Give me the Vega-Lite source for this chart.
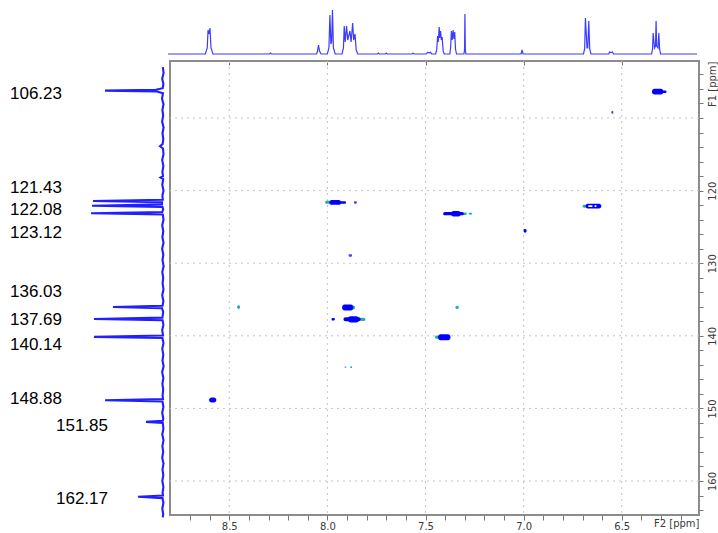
{
  "$schema": "https://vega.github.io/schema/vega-lite/v6.json",
  "padding": 0,
  "background": "white",
  "spacing": 2,
  "config": {
    "view": {"stroke": null},
    "axis": {"labelFont": "DejaVu Sans", "labelFontSize": 10, "labelColor": "#3a3a3a", "titleFont": "DejaVu Sans", "titleFontSize": 10, "titleFontWeight": "normal", "titleColor": "#3a3a3a", "tickColor": "#777777", "domain": false, "labelOverlap": false}
  },
  "datasets": {
    "h1": [
      {"ppm": 8.802, "i": 0}, {"ppm": 8.612, "i": 0}, {"ppm": 8.602, "i": 6}, {"ppm": 8.598, "i": 24}, {"ppm": 8.593, "i": 20}, {"ppm": 8.588, "i": 26}, {"ppm": 8.583, "i": 6}, {"ppm": 8.573, "i": 0},
      {"ppm": 8.285, "i": 0}, {"ppm": 8.28, "i": 1}, {"ppm": 8.275, "i": 0},
      {"ppm": 8.045, "i": 0}, {"ppm": 8.04, "i": 3}, {"ppm": 8.035, "i": 9}, {"ppm": 8.03, "i": 3}, {"ppm": 8.022, "i": 0},
      {"ppm": 7.99, "i": 0}, {"ppm": 7.982, "i": 6}, {"ppm": 7.977, "i": 39}, {"ppm": 7.972, "i": 10}, {"ppm": 7.968, "i": 12}, {"ppm": 7.964, "i": 44}, {"ppm": 7.959, "i": 6}, {"ppm": 7.95, "i": 0},
      {"ppm": 7.915, "i": 0}, {"ppm": 7.908, "i": 6}, {"ppm": 7.904, "i": 28}, {"ppm": 7.899, "i": 12}, {"ppm": 7.892, "i": 28}, {"ppm": 7.886, "i": 14}, {"ppm": 7.875, "i": 23}, {"ppm": 7.869, "i": 12}, {"ppm": 7.861, "i": 31}, {"ppm": 7.856, "i": 14}, {"ppm": 7.849, "i": 20}, {"ppm": 7.843, "i": 4}, {"ppm": 7.835, "i": 0},
      {"ppm": 7.735, "i": 0}, {"ppm": 7.73, "i": 1}, {"ppm": 7.725, "i": 0}, {"ppm": 7.695, "i": 0}, {"ppm": 7.69, "i": 1}, {"ppm": 7.685, "i": 0},
      {"ppm": 7.558, "i": 0}, {"ppm": 7.553, "i": 0.8}, {"ppm": 7.548, "i": 0},
      {"ppm": 7.486, "i": 0}, {"ppm": 7.48, "i": 1.5}, {"ppm": 7.472, "i": 1.2}, {"ppm": 7.465, "i": 1.7}, {"ppm": 7.458, "i": 0},
      {"ppm": 7.438, "i": 0}, {"ppm": 7.433, "i": 4}, {"ppm": 7.428, "i": 18}, {"ppm": 7.425, "i": 12}, {"ppm": 7.42, "i": 27}, {"ppm": 7.417, "i": 16}, {"ppm": 7.413, "i": 23}, {"ppm": 7.409, "i": 14}, {"ppm": 7.405, "i": 17}, {"ppm": 7.4, "i": 3}, {"ppm": 7.395, "i": 0},
      {"ppm": 7.366, "i": 0}, {"ppm": 7.362, "i": 6}, {"ppm": 7.358, "i": 23}, {"ppm": 7.354, "i": 14}, {"ppm": 7.349, "i": 24}, {"ppm": 7.345, "i": 15}, {"ppm": 7.341, "i": 22}, {"ppm": 7.337, "i": 5}, {"ppm": 7.332, "i": 0},
      {"ppm": 7.294, "i": 0}, {"ppm": 7.291, "i": 4}, {"ppm": 7.289, "i": 40}, {"ppm": 7.287, "i": 4}, {"ppm": 7.284, "i": 0},
      {"ppm": 7.003, "i": 0}, {"ppm": 6.998, "i": 4}, {"ppm": 6.993, "i": 0},
      {"ppm": 6.685, "i": 0}, {"ppm": 6.679, "i": 5}, {"ppm": 6.675, "i": 36}, {"ppm": 6.667, "i": 6}, {"ppm": 6.663, "i": 6}, {"ppm": 6.658, "i": 33}, {"ppm": 6.653, "i": 5}, {"ppm": 6.647, "i": 0},
      {"ppm": 6.556, "i": 0}, {"ppm": 6.552, "i": 2}, {"ppm": 6.545, "i": 1.5}, {"ppm": 6.537, "i": 2}, {"ppm": 6.532, "i": 0},
      {"ppm": 6.338, "i": 0}, {"ppm": 6.333, "i": 5}, {"ppm": 6.33, "i": 21}, {"ppm": 6.323, "i": 6}, {"ppm": 6.318, "i": 8}, {"ppm": 6.315, "i": 33}, {"ppm": 6.312, "i": 8}, {"ppm": 6.305, "i": 6}, {"ppm": 6.301, "i": 21}, {"ppm": 6.297, "i": 5}, {"ppm": 6.292, "i": 0},
      {"ppm": 6.1065, "i": 0}
    ],
    "c13": [
      {"ppm": 103.0, "i": 2.2}, {"ppm": 103.8, "i": 1.4}, {"ppm": 104.6, "i": 2.8}, {"ppm": 105.3, "i": 1.6}, {"ppm": 105.9, "i": 2.3}, {"ppm": 106.1, "i": 9}, {"ppm": 106.23, "i": 60}, {"ppm": 106.36, "i": 8}, {"ppm": 106.6, "i": 2.0},
      {"ppm": 107.3, "i": 3.0}, {"ppm": 108.1, "i": 1.5}, {"ppm": 108.9, "i": 2.6}, {"ppm": 109.7, "i": 1.8}, {"ppm": 110.5, "i": 2.9}, {"ppm": 111.3, "i": 1.4}, {"ppm": 112.1, "i": 2.5}, {"ppm": 112.9, "i": 1.7}, {"ppm": 113.6, "i": 2.4}, {"ppm": 113.9, "i": 5}, {"ppm": 114.2, "i": 2.0},
      {"ppm": 115.0, "i": 1.5}, {"ppm": 115.8, "i": 2.8}, {"ppm": 116.6, "i": 1.6}, {"ppm": 117.4, "i": 2.6}, {"ppm": 118.0, "i": 2.0}, {"ppm": 118.2, "i": 4.5}, {"ppm": 118.4, "i": 1.8}, {"ppm": 119.2, "i": 2.7}, {"ppm": 120.0, "i": 1.5}, {"ppm": 120.7, "i": 2.6},
      {"ppm": 121.25, "i": 2.2}, {"ppm": 121.43, "i": 72}, {"ppm": 121.6, "i": 3}, {"ppm": 121.9, "i": 3}, {"ppm": 122.08, "i": 73}, {"ppm": 122.25, "i": 2.5}, {"ppm": 122.6, "i": 1.8}, {"ppm": 122.95, "i": 2.8}, {"ppm": 123.12, "i": 74}, {"ppm": 123.3, "i": 2.2},
      {"ppm": 124.0, "i": 1.5}, {"ppm": 124.8, "i": 2.8}, {"ppm": 125.6, "i": 1.7}, {"ppm": 126.4, "i": 2.6}, {"ppm": 127.2, "i": 1.5}, {"ppm": 128.0, "i": 2.9}, {"ppm": 128.8, "i": 1.7}, {"ppm": 129.6, "i": 2.5}, {"ppm": 130.4, "i": 1.4}, {"ppm": 131.2, "i": 2.7},
      {"ppm": 132.0, "i": 1.8}, {"ppm": 132.8, "i": 2.4}, {"ppm": 133.6, "i": 1.5}, {"ppm": 134.4, "i": 2.8}, {"ppm": 135.2, "i": 1.6}, {"ppm": 135.85, "i": 2.4}, {"ppm": 136.03, "i": 52}, {"ppm": 136.2, "i": 3}, {"ppm": 136.7, "i": 1.8},
      {"ppm": 137.5, "i": 2.6}, {"ppm": 137.69, "i": 71}, {"ppm": 137.85, "i": 2.4}, {"ppm": 138.5, "i": 1.6}, {"ppm": 139.2, "i": 2.8}, {"ppm": 139.95, "i": 2.0}, {"ppm": 140.14, "i": 71}, {"ppm": 140.3, "i": 2.6},
      {"ppm": 141.0, "i": 1.5}, {"ppm": 141.8, "i": 2.7}, {"ppm": 142.6, "i": 1.7}, {"ppm": 143.4, "i": 2.5}, {"ppm": 144.2, "i": 1.4}, {"ppm": 145.0, "i": 2.9}, {"ppm": 145.8, "i": 1.6}, {"ppm": 146.6, "i": 2.6}, {"ppm": 147.4, "i": 1.8}, {"ppm": 148.2, "i": 2.4},
      {"ppm": 148.7, "i": 2.0}, {"ppm": 148.88, "i": 60}, {"ppm": 149.05, "i": 2.5}, {"ppm": 149.8, "i": 1.6}, {"ppm": 150.6, "i": 2.8}, {"ppm": 151.4, "i": 1.7}, {"ppm": 151.7, "i": 2.2}, {"ppm": 151.85, "i": 19}, {"ppm": 152.0, "i": 2.2},
      {"ppm": 152.8, "i": 1.6}, {"ppm": 153.6, "i": 2.7}, {"ppm": 154.4, "i": 1.5}, {"ppm": 155.2, "i": 2.6}, {"ppm": 156.0, "i": 1.8}, {"ppm": 156.8, "i": 2.8}, {"ppm": 157.6, "i": 1.5}, {"ppm": 158.4, "i": 2.5}, {"ppm": 159.2, "i": 1.7}, {"ppm": 160.0, "i": 2.7},
      {"ppm": 160.8, "i": 1.6}, {"ppm": 161.6, "i": 2.4}, {"ppm": 162.0, "i": 2.0}, {"ppm": 162.17, "i": 27}, {"ppm": 162.35, "i": 2.5}, {"ppm": 163.0, "i": 1.6}, {"ppm": 163.8, "i": 2.7}, {"ppm": 164.5, "i": 1.8}, {"ppm": 165.0, "i": 2.2}
    ],
    "labels": [
      {"label": "106.23", "label_ppm": 106.70, "label_int": 103},
      {"label": "121.43", "label_ppm": 119.59, "label_int": 103},
      {"label": "122.08", "label_ppm": 122.65, "label_int": 103},
      {"label": "123.12", "label_ppm": 125.78, "label_int": 103},
      {"label": "136.03", "label_ppm": 134.03, "label_int": 103},
      {"label": "137.69", "label_ppm": 137.83, "label_int": 103},
      {"label": "140.14", "label_ppm": 141.22, "label_int": 103},
      {"label": "148.88", "label_ppm": 148.65, "label_int": 103},
      {"label": "151.85", "label_ppm": 152.37, "label_int": 57},
      {"label": "162.17", "label_ppm": 162.41, "label_int": 57}
    ],
    "grid_h": [{"ppm": 8.5}, {"ppm": 8.0}, {"ppm": 7.5}, {"ppm": 7.0}, {"ppm": 6.5}],
    "grid_c": [{"ppm": 110}, {"ppm": 120}, {"ppm": 130}, {"ppm": 140}, {"ppm": 150}, {"ppm": 160}],
    "hsqc": [
      {"h_lo": 6.288, "h_hi": 6.346, "c_lo": 105.98, "c_hi": 106.78, "kind": "blue"},
      {"h_lo": 6.272, "h_hi": 6.292, "c_lo": 106.2, "c_hi": 106.55, "kind": "blue"},
      {"h_lo": 6.543, "h_hi": 6.553, "c_lo": 109.05, "c_hi": 109.4, "kind": "mid"},
      {"h_lo": 7.975, "h_hi": 8.012, "c_lo": 121.4, "c_hi": 121.8, "kind": "teal"},
      {"h_lo": 7.93, "h_hi": 7.99, "c_lo": 121.3, "c_hi": 121.95, "kind": "blue"},
      {"h_lo": 7.905, "h_hi": 7.935, "c_lo": 121.45, "c_hi": 121.8, "kind": "blue"},
      {"h_lo": 7.85, "h_hi": 7.865, "c_lo": 121.45, "c_hi": 121.8, "kind": "mid"},
      {"h_lo": 7.29, "h_hi": 7.312, "c_lo": 123.0, "c_hi": 123.35, "kind": "teal"},
      {"h_lo": 7.262, "h_hi": 7.28, "c_lo": 123.05, "c_hi": 123.3, "kind": "teal"},
      {"h_lo": 7.305, "h_hi": 7.41, "c_lo": 122.95, "c_hi": 123.4, "kind": "blue"},
      {"h_lo": 7.32, "h_hi": 7.37, "c_lo": 122.8, "c_hi": 123.55, "kind": "blue"},
      {"h_lo": 6.985, "h_hi": 7.0, "c_lo": 125.3, "c_hi": 125.8, "kind": "blue"},
      {"h_lo": 6.68, "h_hi": 6.70, "c_lo": 121.95, "c_hi": 122.35, "kind": "teal"},
      {"h_lo": 6.604, "h_hi": 6.685, "c_lo": 121.8, "c_hi": 122.45, "kind": "blue"},
      {"h_lo": 6.648, "h_hi": 6.672, "c_lo": 122.02, "c_hi": 122.25, "kind": "hole"},
      {"h_lo": 6.628, "h_hi": 6.64, "c_lo": 122.02, "c_hi": 122.25, "kind": "hole"},
      {"h_lo": 7.874, "h_hi": 7.892, "c_lo": 128.75, "c_hi": 129.1, "kind": "mid"},
      {"h_lo": 8.445, "h_hi": 8.46, "c_lo": 135.8, "c_hi": 136.3, "kind": "teal"},
      {"h_lo": 7.86, "h_hi": 7.872, "c_lo": 135.85, "c_hi": 136.35, "kind": "teal"},
      {"h_lo": 7.868, "h_hi": 7.925, "c_lo": 135.7, "c_hi": 136.5, "kind": "blue"},
      {"h_lo": 7.962, "h_hi": 7.979, "c_lo": 137.55, "c_hi": 137.9, "kind": "blue"},
      {"h_lo": 7.806, "h_hi": 7.835, "c_lo": 137.5, "c_hi": 137.95, "kind": "teal"},
      {"h_lo": 7.83, "h_hi": 7.918, "c_lo": 137.45, "c_hi": 138.0, "kind": "blue"},
      {"h_lo": 7.84, "h_hi": 7.895, "c_lo": 137.3, "c_hi": 138.15, "kind": "blue"},
      {"h_lo": 7.33, "h_hi": 7.348, "c_lo": 135.85, "c_hi": 136.3, "kind": "teal"},
      {"h_lo": 7.43, "h_hi": 7.452, "c_lo": 139.95, "c_hi": 140.4, "kind": "teal"},
      {"h_lo": 7.373, "h_hi": 7.436, "c_lo": 139.8, "c_hi": 140.6, "kind": "blue"},
      {"h_lo": 7.903, "h_hi": 7.913, "c_lo": 144.2, "c_hi": 144.45, "kind": "faint"},
      {"h_lo": 7.874, "h_hi": 7.884, "c_lo": 144.2, "c_hi": 144.45, "kind": "teal"},
      {"h_lo": 8.566, "h_hi": 8.603, "c_lo": 148.5, "c_hi": 149.2, "kind": "blue"}
    ]
  },
  "vconcat": [
    {
      "width": 697,
      "height": 54,
      "data": {"name": "h1"},
      "mark": {"type": "line", "color": "#3c3cff", "strokeWidth": 1.2},
      "encoding": {
        "x": {"field": "ppm", "type": "quantitative", "scale": {"domain": [6.1065, 9.658], "reverse": true, "nice": false, "zero": false}, "axis": null},
        "y": {"field": "i", "type": "quantitative", "scale": {"domain": [0, 54], "nice": false}, "axis": null}
      }
    },
    {
      "hconcat": [
        {
          "width": 165,
          "height": 454,
          "layer": [
            {
              "data": {"name": "c13"},
              "mark": {"type": "line", "color": "#1f1fff", "strokeWidth": 2.1},
              "encoding": {
                "x": {"field": "i", "type": "quantitative", "scale": {"domain": [0, 165], "reverse": true, "nice": false}, "axis": null},
                "y": {"field": "ppm", "type": "quantitative", "scale": {"domain": [102.15, 164.68], "reverse": true, "nice": false, "zero": false}, "axis": null},
                "order": {"field": "ppm", "type": "quantitative"}
              }
            },
            {
              "data": {"name": "labels"},
              "mark": {"type": "text", "align": "right", "baseline": "middle", "font": "Liberation Sans", "fontSize": 17, "color": "#000000"},
              "encoding": {
                "x": {"field": "label_int", "type": "quantitative", "axis": null},
                "y": {"field": "label_ppm", "type": "quantitative", "axis": null},
                "text": {"field": "label"}
              }
            }
          ]
        },
        {
          "width": 529,
          "height": 454,
          "view": {"stroke": "#8c8c8c", "strokeWidth": 2},
          "layer": [
            {
              "data": {"name": "grid_h"},
              "mark": {"type": "rule", "color": "#c4c4c4", "strokeDash": [2, 4], "strokeWidth": 1},
              "encoding": {
                "x": {"field": "ppm", "type": "quantitative", "axis": null}
              }
            },
            {
              "data": {"name": "grid_c"},
              "mark": {"type": "rule", "color": "#c4c4c4", "strokeDash": [2, 4], "strokeWidth": 1},
              "encoding": {
                "y": {"field": "ppm", "type": "quantitative", "axis": null}
              }
            },
            {
              "data": {"name": "hsqc"},
              "mark": {"type": "rect", "cornerRadius": 2.5},
              "encoding": {
                "x": {"field": "h_lo", "type": "quantitative", "scale": {"domain": [6.1065, 8.802], "reverse": true, "nice": false, "zero": false},
                  "axis": {"orient": "bottom", "title": "F2 [ppm]", "titleAnchor": "start", "titleAlign": "right", "titlePadding": -13,
                    "values": [6.2, 6.3, 6.4, 6.5, 6.6, 6.7, 6.8, 6.9, 7.0, 7.1, 7.2, 7.3, 7.4, 7.5, 7.6, 7.7, 7.8, 7.9, 8.0, 8.1, 8.2, 8.3, 8.4, 8.5, 8.6, 8.7],
                    "labelExpr": "abs(datum.value*2 - round(datum.value*2)) < 0.01 ? format(datum.value, '.1f') : ''",
                    "tickSize": 5, "labelPadding": 1, "labelFlush": false, "labelOverlap": false, "grid": false}},
                "x2": {"field": "h_hi"},
                "y": {"field": "c_lo", "type": "quantitative", "scale": {"domain": [102.15, 164.68], "reverse": true, "nice": false, "zero": false},
                  "axis": {"orient": "right", "title": "F1 [ppm]", "titleAnchor": "start", "titleAngle": 270, "titleAlign": "right", "titleBaseline": "top", "titlePadding": -10,
                    "values": [104, 106, 108, 110, 112, 114, 116, 118, 120, 122, 124, 126, 128, 130, 132, 134, 136, 138, 140, 142, 144, 146, 148, 150, 152, 154, 156, 158, 160, 162, 164],
                    "labelExpr": "(datum.value % 10 == 0 && datum.value > 115) ? datum.value + '' : ''",
                    "labelAngle": 270, "labelAlign": "center", "labelBaseline": "top", "labelPadding": 4, "tickSize": 4, "labelOverlap": false, "labelFlush": false, "grid": false}},
                "y2": {"field": "c_hi"},
                "color": {"field": "kind", "type": "nominal", "scale": {"domain": ["blue", "mid", "faint", "teal", "hole"], "range": ["#0000ff", "#4040ff", "#9a9aff", "#20b0a8", "#ffffff"]}, "legend": null}
              }
            },
            {
              "data": {"name": "grid_h"},
              "mark": {"type": "rule", "opacity": 0},
              "encoding": {
                "x": {"field": "ppm", "type": "quantitative", "axis": {"orient": "top", "labels": false, "title": null, "grid": false, "tickSize": 4, "offset": -4, "values": [8.5, 8.0, 7.5, 7.0, 6.5]}}
              }
            }
          ],
          "resolve": {"axis": {"x": "independent", "y": "independent"}}
        }
      ],
      "spacing": 0
    }
  ]
}
